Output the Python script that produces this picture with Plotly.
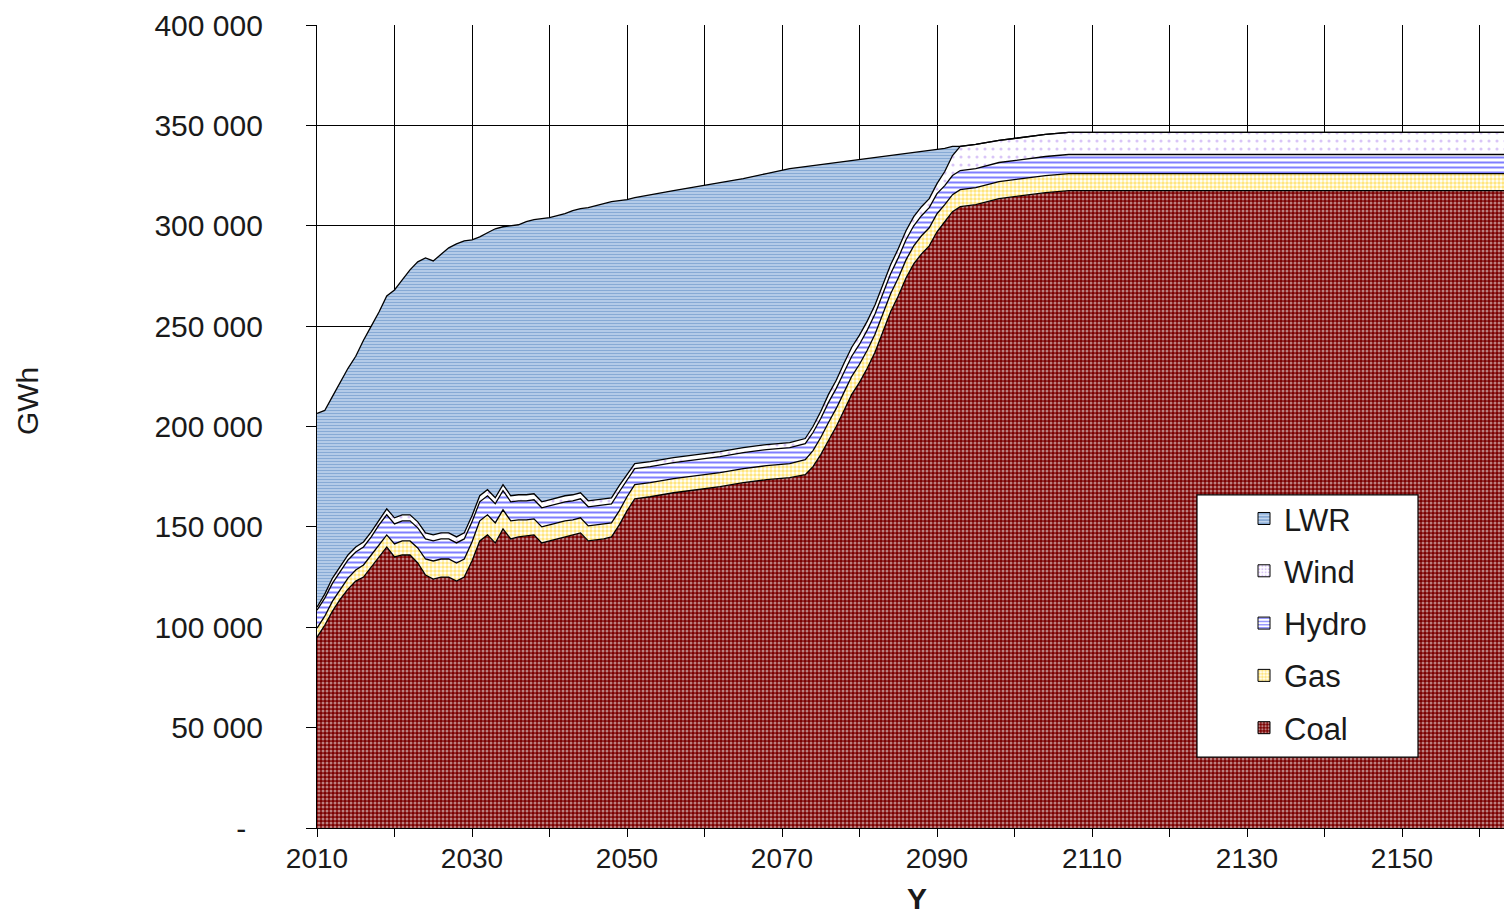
import plotly.graph_objects as go

years = [2010, 2011, 2012, 2013, 2014, 2015, 2016, 2017, 2018, 2019,
         2020, 2021, 2022, 2023, 2024, 2025, 2026, 2027, 2028, 2029,
         2030, 2031, 2032, 2033, 2034, 2035, 2036, 2037, 2038, 2039,
         2040, 2041, 2042, 2043, 2044, 2045, 2046, 2047, 2048, 2049,
         2050, 2051, 2053, 2056, 2059, 2062, 2065, 2068, 2071, 2073,
         2074, 2075, 2076, 2077, 2078, 2079, 2080, 2081, 2082, 2083,
         2084, 2085, 2086, 2087, 2088, 2089, 2090, 2091, 2092, 2093,
         2094, 2095, 2098, 2101, 2104, 2107, 2110, 2125, 2140, 2155, 2165]

# GWh (thousands)
coal_k = [95, 101, 108, 114, 119, 123, 125, 130, 135, 140,
          135, 136, 136, 132, 126, 124, 125, 125, 123, 125,
          133, 143, 146, 142, 149, 144, 145, 145.5, 146, 142,
          143, 144, 145, 146, 147, 143, 143.5, 144, 145, 151,
          158, 164, 165, 167, 168.5, 170, 172, 173.5, 174.5, 176,
          180, 186, 193, 200, 208, 216, 222, 229, 237, 247,
          257, 265, 274, 281, 286, 290, 297, 302, 307, 309.5,
          310, 310.5, 313.5, 315, 316.5, 317.5, 317.5, 317.5, 317.5, 317.5, 317.5]

gas_k = [4.5, 4.5, 5, 5, 5.5, 5.5, 6, 6, 6, 6,
         6.5, 7, 7, 7.5, 8, 9, 9, 9, 9, 9,
         9.5, 10, 10, 10, 9.5, 9, 8.5, 8, 8, 8,
         8, 8, 8, 7.5, 7.5, 7.5, 7.5, 7.5, 7, 7,
         7, 7, 7, 7, 7, 7, 7, 7, 7, 7.5,
         8, 8.5, 9, 9, 9, 9, 9, 9, 9, 9,
         9, 9, 9, 9, 9, 9, 9, 8.5, 8.5, 8.5,
         8.5, 8.5, 8.5, 8.5, 8.5, 8.5, 8.5, 8.5, 8.5, 8.5, 8.5]

hydro_k = [9, 9, 9, 9, 9, 9, 9, 9, 10, 10,
           10, 10, 10, 10, 10, 10, 10, 10, 10, 10,
           10, 9.5, 9.5, 9.5, 9.5, 9.5, 9.5, 9.5, 9.5, 9.5,
           9.5, 9.5, 9.5, 9.5, 9.5, 9.5, 9.5, 9.5, 9.5, 9.5,
           8.5, 8, 8, 8, 8, 8, 8, 8, 8, 8,
           9, 9.5, 10, 10, 10, 10, 10, 10, 10, 10,
           10, 10, 10, 10, 10, 10, 10, 9.5, 9.5, 9.5,
           9.5, 9.5, 9.5, 9.5, 9.5, 9.5, 9.5, 9.5, 9.5, 9.5, 9.5]

wind_k = [1.5, 2, 2.5, 2.5, 2.5, 2.5, 2.5, 2.5, 2.5, 3,
          3, 3, 3, 3, 3, 3, 3, 3, 3, 3,
          3, 3, 3, 3, 3, 3, 3, 3, 3, 3,
          3, 3, 3, 3, 3, 3, 3, 3, 3, 3,
          2.5, 2.5, 2.5, 2.5, 2.5, 2.5, 2.5, 2.5, 2.5, 2.5,
          3, 3.5, 4, 4, 4.5, 4.5, 4.5, 4.5, 4.5, 4.5,
          4.5, 4.5, 4.5, 4.5, 4.5, 4.5, 5, 7, 10, 12,
          12, 12, 11, 11, 11, 11, 11, 11, 11, 11, 11]

lwr_k = [96.5, 91.5, 90.5, 91.5, 93, 95, 100.5, 102.5, 103.5, 106,
         113.5, 117, 122, 129.5, 137, 136.5, 139, 142, 146, 145.5,
         137.5, 129, 128, 134, 128.5, 134.5, 134.5, 136, 136.5, 141,
         140.5, 140.5, 140.5, 141.5, 141.5, 146, 146.5, 147, 147.5, 142,
         137, 132.5, 133, 133, 133.5, 134, 134, 135, 136.5, 135.5,
         130, 123, 115, 108.5, 100.5, 93, 87.5, 81, 73.5, 64,
         54.5, 47, 38.5, 32, 27.5, 24, 17, 11.5, 4.5, 0,
         0, 0, 0, 0, 0, 0, 0, 0, 0, 0, 0]

series = ["Coal", "Gas", "Hydro", "Wind", "LWR"]
values_k = [coal_k, gas_k, hydro_k, wind_k, lwr_k]

y_ticks = [0, 50000, 100000, 150000, 200000, 250000, 300000, 350000, 400000]
y_ticktext = ["-\u00a0\u00a0", "50 000", "100 000", "150 000", "200 000",
              "250 000", "300 000", "350 000", "400 000"]
x_ticks = list(range(2010, 2170, 10))
x_labels = ["2010", "2030", "2050", "2070", "2090", "2110", "2130", "2150"]

patterns = {
    "Coal": dict(shape=".", fgcolor="#FFFFFF", bgcolor="#7A0000", size=4, solidity=0.45),
    "Gas": dict(shape=".", fgcolor="#FFCC00", bgcolor="#FFFFFF", size=4, solidity=0.6),
    "Hydro": dict(shape="-", fgcolor="#0000FF", bgcolor="#FFFFFF", size=5, solidity=0.4),
    "Wind": dict(shape=".", fgcolor="#B48CF0", bgcolor="#FFFFFF", size=8, solidity=0.12),
    "LWR": dict(shape="-", fgcolor="#4679BC", bgcolor="#C8DAEF", size=3, solidity=0.55),
}

fig = go.Figure()
for name, vals in zip(series, values_k):
    fig.add_trace(go.Scatter(
        x=years, y=[v * 1000 for v in vals], name=name, mode="lines",
        stackgroup="one", line=dict(color="#000000", width=1.3),
        fillpattern=patterns[name], showlegend=False,
    ))

for name in ["LWR", "Wind", "Hydro", "Gas", "Coal"]:
    p = patterns[name]
    fig.add_trace(go.Bar(
        x=[None], y=[None], name=name, legendgroup=name,
        marker=dict(color=p["bgcolor"], line=dict(color="#000000", width=1),
                    pattern=dict(shape=p["shape"], fgcolor=p["fgcolor"],
                                 bgcolor=p["bgcolor"], size=4,
                                 solidity=max(p["solidity"], 0.35))),
    ))

# The page places the figure 8px in from the top-left corner of the window.
OFF = 8
W, H = 1512 - OFF, 917 - OFF
PL, PT, PB, PR = 317, 23, 828, 1512  # plot area in window pixels
L, T, B, R = PL - OFF, PT - OFF, H - (PB - OFF), 0
pw, ph = PR - PL, PB - PT
x_end = 2010 + pw / 7.75


def px_x(px):
    return (px - PL) / pw


def px_y(py):
    return (PB - py) / ph


font_family = "Liberation Sans, Arial, sans-serif"
txt = "#1a1a1a"

fig.update_layout(
    width=W, height=H,
    margin=dict(l=L, r=R, t=T, b=B),
    paper_bgcolor="white", plot_bgcolor="white",
    font=dict(family=font_family, color=txt, size=28),
    showlegend=True,
    legend=dict(x=px_x(1244), y=px_y(491), xanchor="left", yanchor="top",
                bgcolor="rgba(0,0,0,0)", borderwidth=0, itemwidth=30,
                font=dict(size=31, family=font_family, color=txt),
                traceorder="grouped", tracegroupgap=9),
    xaxis=dict(range=[2010, x_end], tickmode="array", tickvals=x_ticks,
               ticktext=[str(v) if str(v) in x_labels else "" for v in x_ticks],
               showgrid=True, gridcolor="#000000", gridwidth=1,
               showline=True, linecolor="#000000", linewidth=1.2,
               ticks="outside", ticklen=8, tickcolor="#000000", tickwidth=1.2,
               ticklabelstandoff=-3,
               tickfont=dict(size=28, family=font_family, color=txt),
               zeroline=False),
    yaxis=dict(range=[0, 400000], tickmode="array", tickvals=y_ticks,
               ticktext=y_ticktext, ticklabeloverflow="allow",
               showgrid=True, gridcolor="#000000", gridwidth=1,
               showline=True, linecolor="#000000", linewidth=1.2,
               ticks="outside", ticklen=10, tickcolor="#000000", tickwidth=1.2,
               ticklabelstandoff=37,
               tickfont=dict(size=30, family=font_family, color=txt),
               zeroline=False),
    shapes=[dict(type="rect", xref="paper", yref="paper",
                 x0=px_x(1197), x1=px_x(1418), y0=px_y(757), y1=px_y(494),
                 fillcolor="white", line=dict(color="#000000", width=1.2),
                 layer="above")],
    annotations=[
        dict(text="GWh", xref="paper", yref="paper",
             x=px_x(27), y=px_y(400),
             xanchor="center", yanchor="middle", textangle=-90, showarrow=False,
             font=dict(size=30, family=font_family, color=txt)),
        dict(text="<b>Y</b>", xref="paper", yref="paper", x=px_x(917), y=px_y(899),
             xanchor="center", yanchor="middle", showarrow=False,
             font=dict(size=30, family=font_family, color=txt)),
    ],
)

fig.write_html("out.html")
